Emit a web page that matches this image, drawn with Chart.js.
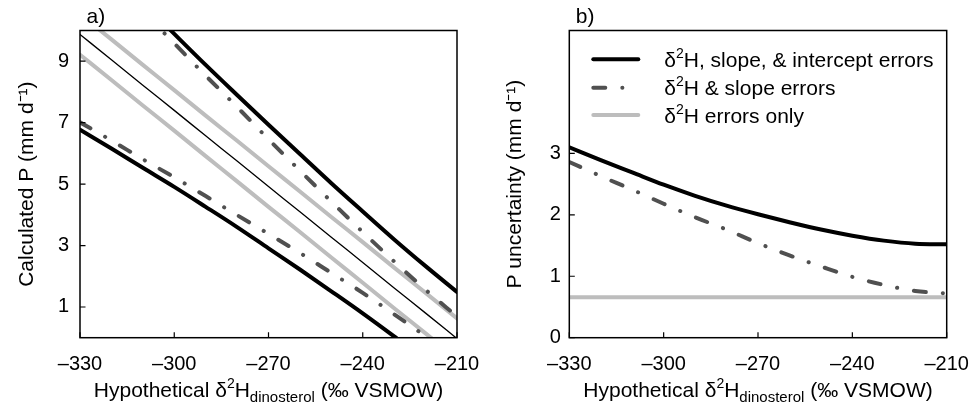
<!DOCTYPE html>
<html><head><meta charset="utf-8">
<script src="https://cdn.jsdelivr.net/npm/chart.js@4.4.1/dist/chart.umd.min.js"></script>
<style>
html,body{margin:0;padding:0;background:#fff;}
#wrap{position:relative;width:972px;height:402px;overflow:hidden;}
.p{position:absolute;top:0;height:402px;}
</style></head><body>
<div id="wrap">
<div class="p" style="left:0;width:495px"><canvas id="ca" width="495" height="402"></canvas></div>
<div class="p" style="left:486px;width:499px"><canvas id="cb" width="499" height="402"></canvas></div>
</div>
<script>
// ---------- data ----------
const deltaH = [-330,-320,-310,-300,-290,-280,-270,-260,-250,-240,-230,-220,-210];
// panel a: calculated P (mm/d)
const pCentral    = [9.87,9.05,8.22,7.40,6.57,5.75,4.92,4.10,3.27,2.45,1.62,0.80,-0.03];
const pAllUpper   = [12.97,11.94,10.91,9.89,8.88,7.90,6.93,5.98,5.03,4.11,3.20,2.33,1.49];
const pAllLower   = [6.77,6.16,5.53,4.91,4.26,3.60,2.91,2.22,1.51,0.79,0.04,-0.73,-1.55];
const pSlopeUpper = [12.73,11.68,10.63,9.58,8.53,7.51,6.46,5.44,4.43,3.44,2.48,1.56,0.69];
const pSlopeLower = [7.01,6.42,5.81,5.22,4.61,3.99,3.38,2.76,2.11,1.46,0.76,0.04,-0.75];
const pHUpper     = [10.53,9.71,8.88,8.06,7.23,6.41,5.58,4.76,3.93,3.11,2.28,1.46,0.63];
const pHLower     = [9.21,8.39,7.56,6.74,5.91,5.09,4.26,3.44,2.61,1.79,0.96,0.14,-0.69];
// panel b: P uncertainty (mm/d)
const uAll   = [3.10,2.89,2.69,2.49,2.31,2.15,2.01,1.88,1.76,1.66,1.58,1.53,1.52];
const uSlope = [2.86,2.63,2.41,2.18,1.96,1.76,1.54,1.34,1.16,0.99,0.86,0.76,0.72];
const uH     = [0.66,0.66,0.66,0.66,0.66,0.66,0.66,0.66,0.66,0.66,0.66,0.66,0.66];
// ticks and labels
const xTicks  = [-330,-300,-270,-240,-210];
const yTicksA = [1,3,5,7,9];
const yTicksB = [0,1,2,3];
const seriesNames = ['δ²H, slope, & intercept errors','δ²H & slope errors','δ²H errors only'];
const yTitleA = 'Calculated P (mm d⁻¹)';
const yTitleB = 'P uncertainty (mm d⁻¹)';

// ---------- styling ----------
const FONT = '"Liberation Sans", Arial, Helvetica, sans-serif';
const BLACK = '#000000', DASHC = '#505050', GRAYC = '#bdbdbd';
const DASH = [12,17,0.1,17];

function pts(arr){ return deltaH.map((x,i)=>({x:x, y:arr[i]})); }
function fmt(v){ return v<0 ? '\u2013'+Math.abs(v) : String(v); }

function drawRich(ctx, segs, x, y, align){
  let w = 0;
  segs.forEach(s=>{ ctx.font = s.size+'px '+FONT; s.w = ctx.measureText(s.t).width; w += s.w; });
  let cx = align==='center' ? x - w/2 : x;
  ctx.textAlign='left'; ctx.textBaseline='alphabetic';
  segs.forEach(s=>{ ctx.font = s.size+'px '+FONT; ctx.fillText(s.t, cx, y + (s.dy||0)); cx += s.w; });
}
function supSegs(label, size){
  const parts = label.split('²');
  const out = [];
  parts.forEach((p,i)=>{ if(i>0) out.push({t:'2',size:Math.round(size*0.68),dy:-size*0.42}); if(p) out.push({t:p,size:size}); });
  return out;
}

const decor = {
  id:'decor',
  afterDatasetsDraw(chart, args, o){
    const {ctx, chartArea:a, scales} = chart;
    ctx.save();
    ctx.strokeStyle='#000'; ctx.lineWidth=1.5;
    ctx.strokeRect(a.left, a.top, a.right-a.left, a.bottom-a.top);
    ctx.lineWidth=1.2; ctx.beginPath();
    scales.x.ticks.forEach(t=>{const px=scales.x.getPixelForValue(t.value); ctx.moveTo(px,a.bottom); ctx.lineTo(px,a.bottom-5.5);});
    scales.y.ticks.forEach(t=>{const py=scales.y.getPixelForValue(t.value); ctx.moveTo(a.left,py); ctx.lineTo(a.left+5.5,py);});
    ctx.stroke();
    ctx.fillStyle='#000';
    // panel letter
    ctx.font='21px '+FONT; ctx.textAlign='left'; ctx.textBaseline='alphabetic';
    ctx.fillText(o.letter, a.left+6.5, 23);
    // x axis title with superscript / subscript
    drawRich(ctx, [
      {t:'Hypothetical δ',size:21},{t:'2',size:14,dy:-9},{t:'H',size:21},
      {t:'dinosterol',size:15,dy:5},{t:' (‰ VSMOW)',size:21}
    ], (a.left+a.right)/2, 397, 'center');
    // legend
    if(o.legend){
      const rows=[59.3,87.7,115];
      chart.data.datasets.forEach((ds,i)=>{
        ctx.save();
        ctx.strokeStyle=ds.borderColor; ctx.lineWidth=ds.borderWidth;
        ctx.lineCap='round'; ctx.setLineDash(ds.borderDash||[]);
        ctx.beginPath(); ctx.moveTo(a.left+24,rows[i]); ctx.lineTo(a.left+69,rows[i]); ctx.stroke();
        ctx.restore();
        ctx.fillStyle='#000';
        drawRich(ctx, supSegs(ds.label,21), a.left+95, rows[i]+7.5, 'left');
      });
    }
    ctx.restore();
  }
};

function axisX(){
  return {type:'linear', min:-330, max:-210,
    afterBuildTicks:s=>{ s.ticks = xTicks.map(v=>({value:v})); },
    afterFit:s=>{ s.height = 64.3; },
    grid:{display:false, drawTicks:false}, border:{display:false},
    ticks:{padding:15, color:'#000', font:{family:FONT,size:20}, maxRotation:0, autoSkip:false, callback:v=>fmt(v)}};
}
function axisY(min,max,tks,width,pad,title,tpad){
  return {type:'linear', min:min, max:max,
    afterBuildTicks:s=>{ s.ticks = tks.map(v=>({value:v})); },
    afterFit:s=>{ s.width = width; },
    grid:{display:false, drawTicks:false}, border:{display:false},
    ticks:{padding:pad, color:'#000', font:{family:FONT,size:20}, autoSkip:false, callback:v=>fmt(v)},
    title:{display:true, text:title, color:'#000', font:{family:FONT,size:21}, padding:{top:tpad,bottom:0}}};
}
function line(label, arr, color, width, dash){
  return {label:label, data:pts(arr), borderColor:color, borderWidth:width, borderDash:dash||[],
    borderCapStyle:'round', borderJoinStyle:'round', pointRadius:0, fill:false,
    cubicInterpolationMode:'monotone', clip:0};
}

new Chart(document.getElementById('ca'), {
  type:'line',
  data:{datasets:[
    line(seriesNames[0], pAllUpper, BLACK, 4),
    line(seriesNames[0], pAllLower, BLACK, 4),
    line(seriesNames[1], pSlopeUpper, DASHC, 4, DASH),
    line(seriesNames[1], pSlopeLower, DASHC, 4, DASH),
    line(seriesNames[2], pHUpper, GRAYC, 4),
    line(seriesNames[2], pHLower, GRAYC, 4),
    line('Central estimate', pCentral, BLACK, 1.3)
  ]},
  options:{responsive:false, animation:false, devicePixelRatio:1,
    layout:{padding:{top:30.5,right:38,bottom:0,left:0}},
    plugins:{legend:{display:false}, tooltip:{enabled:false}, decor:{letter:'a)', legend:false}},
    scales:{x:axisX(), y:axisY(0,10,yTicksA,80,11,yTitleA,15)}},
  plugins:[decor]
});

new Chart(document.getElementById('cb'), {
  type:'line',
  data:{datasets:[
    line(seriesNames[0], uAll, BLACK, 4),
    line(seriesNames[1], uSlope, DASHC, 4, DASH),
    line(seriesNames[2], uH, GRAYC, 4)
  ]},
  options:{responsive:false, animation:false, devicePixelRatio:1,
    layout:{padding:{top:30.5,right:38.3,bottom:0,left:0}},
    plugins:{legend:{display:false}, tooltip:{enabled:false}, decor:{letter:'b)', legend:true}},
    scales:{x:axisX(), y:axisY(0,5,yTicksB,83.3,8.5,yTitleB,16.5)}},
  plugins:[decor]
});
</script>
</body></html>
